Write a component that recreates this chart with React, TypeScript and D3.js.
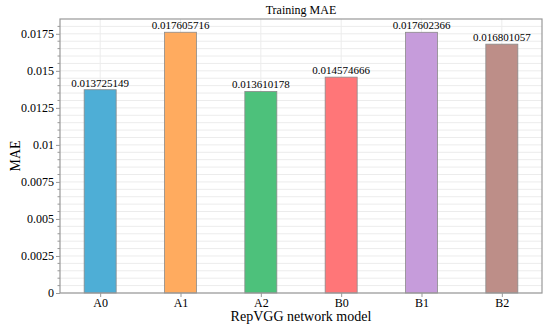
import { useEffect, useRef } from "react";
import * as d3 from "d3";

const models = ["A0", "A1", "A2", "B0", "B1", "B2"];
const maeValues = [0.013725149, 0.017605716, 0.013610178, 0.014574666, 0.017602366, 0.016801057];
const barColors = ["#4eaed6", "#ffab5f", "#4dc17b", "#ff7678", "#c69cdb", "#bd8e88"];
const yTicks = [0, 0.0025, 0.005, 0.0075, 0.01, 0.0125, 0.015, 0.0175];

export default function App() {
  // svg reference
  const svgRef = useRef<SVGSVGElement>(null);

  useEffect(() => {
    const svg = d3.select(svgRef.current);
    svg.selectAll("*").remove();

    const width = 550;
    const height = 329;
    const margin = { top: 19, right: 8, bottom: 36, left: 60 };
    const chartWidth = width - margin.left - margin.right;
    const chartHeight = height - margin.top - margin.bottom;
    const font = "Liberation Serif, Times New Roman, serif";

    const g = svg.append("g").attr("transform", `translate(${margin.left},${margin.top})`);

    // scales
    const x = d3.scalePoint<string>().domain(models).range([0, chartWidth]).padding(0.5);
    const barWidth = 32;
    const y = d3.scaleLinear().domain([0, 0.0185]).range([chartHeight, 0]);

    // minor gridlines
    const minor = d3.range(0, 0.0185, 0.0005);
    g.append("g")
      .selectAll("line")
      .data(minor)
      .join("line")
      .attr("x1", 0)
      .attr("x2", chartWidth)
      .attr("y1", (d) => y(d))
      .attr("y2", (d) => y(d))
      .attr("stroke", "#ececec")
      .attr("stroke-width", 1);

    // vertical gridlines at categories
    g.append("g")
      .selectAll("line")
      .data(models)
      .join("line")
      .attr("x1", (d) => x(d)!)
      .attr("x2", (d) => x(d)!)
      .attr("y1", 0)
      .attr("y2", chartHeight)
      .attr("stroke", "#ececec");

    // bars
    g.append("g")
      .selectAll("rect")
      .data(maeValues)
      .join("rect")
      .attr("x", (_, i) => x(models[i])! - barWidth / 2)
      .attr("y", (d) => y(d))
      .attr("width", barWidth)
      .attr("height", (d) => chartHeight - y(d))
      .attr("fill", (_, i) => barColors[i])
      .attr("stroke", "#8a8a8a")
      .attr("stroke-width", 0.8);

    // value labels
    g.append("g")
      .selectAll("text")
      .data(maeValues)
      .join("text")
      .attr("x", (_, i) => x(models[i])!)
      .attr("y", (d) => y(d) - 3)
      .attr("text-anchor", "middle")
      .style("font-family", font)
      .style("font-size", "11px")
      .attr("fill", "#000")
      .text((d) => d.toFixed(9));

    // frame
    g.append("rect")
      .attr("width", chartWidth)
      .attr("height", chartHeight)
      .attr("fill", "none")
      .attr("stroke", "#999")
      .attr("stroke-width", 1.2);

    // y axis
    const yAxis = g.append("g").call(
      d3.axisLeft(y).tickValues(yTicks).tickSize(4).tickPadding(2).tickFormat((d) => String(+d))
    );
    yAxis.attr("font-family", null).attr("font-size", null);
    yAxis.select(".domain").remove();
    yAxis.selectAll("line").attr("stroke", "#999");
    yAxis.selectAll("text").style("font-family", font).style("font-size", "12px").attr("fill", "#000");

    // y minor ticks
    g.append("g")
      .selectAll("line")
      .data(minor.filter((d) => yTicks.every((t) => Math.abs(t - d) > 1e-9)))
      .join("line")
      .attr("x1", -2.5)
      .attr("x2", 0)
      .attr("y1", (d) => y(d))
      .attr("y2", (d) => y(d))
      .attr("stroke", "#999");

    // x axis
    const xAxis = g.append("g")
      .attr("transform", `translate(0,${chartHeight})`)
      .call(d3.axisBottom(x).tickSize(4).tickPadding(1));
    xAxis.attr("font-family", null).attr("font-size", null);
    xAxis.select(".domain").remove();
    xAxis.selectAll("line").attr("stroke", "#999");
    xAxis.selectAll("text").style("font-family", font).style("font-size", "12px").attr("fill", "#000");

    // title and axis labels
    svg.append("text")
      .attr("x", margin.left + chartWidth / 2)
      .attr("y", 14)
      .attr("text-anchor", "middle")
      .style("font-family", font)
      .style("font-size", "12px")
      .attr("fill", "#000")
      .text("Training MAE");

    svg.append("text")
      .attr("x", margin.left + chartWidth / 2)
      .attr("y", 321)
      .attr("text-anchor", "middle")
      .style("font-family", font)
      .style("font-size", "14px")
      .attr("fill", "#000")
      .text("RepVGG network model");

    svg.append("text")
      .attr("transform", `translate(20,${margin.top + chartHeight / 2}) rotate(-90)`)
      .attr("text-anchor", "middle")
      .style("font-family", font)
      .style("font-size", "14px")
      .attr("fill", "#000")
      .text("MAE");
  }, []);

  return (
    <svg
      ref={svgRef}
      width={550}
      height={329}
      style={{ position: "absolute", left: 0, top: 0, background: "#fff" }}
    />
  );
}
